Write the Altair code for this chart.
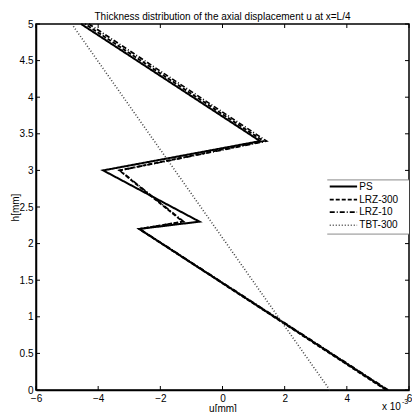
import altair as alt
import pandas as pd

FONT = "Liberation Sans"

title_text = "Thickness distribution of the axial displacement u at x=L/4"
series_names = ["PS", "LRZ-300", "LRZ-10", "TBT-300"]

ps_u = [5.30, -2.68, -0.74, -3.84, 1.21, -4.55]
ps_h = [0.0, 2.2, 2.3, 3.0, 3.4, 5.0]

lrz300_u = [5.26, -2.68, -1.28, -3.32, 1.32, -4.42]
lrz300_h = [0.0, 2.2, 2.3, 3.0, 3.4, 5.0]

lrz10_u = [5.33, -2.66, -1.25, -3.30, 1.42, -4.30]
lrz10_h = [0.0, 2.2, 2.3, 3.0, 3.4, 5.0]

tbt_u = [3.45, -4.85]
tbt_h = [0.0, 5.0]

x_ticks = [-6, -4, -2, 0, 2, 4, 6]
y_ticks = [0, 0.5, 1, 1.5, 2, 2.5, 3, 3.5, 4, 4.5, 5]

rows = []
for name, us, hs in [("PS", ps_u, ps_h), ("LRZ-300", lrz300_u, lrz300_h),
                     ("LRZ-10", lrz10_u, lrz10_h), ("TBT-300", tbt_u, tbt_h)]:
    for i, (u, h) in enumerate(zip(us, hs)):
        rows.append({"series": name, "u": u, "h": h, "i": i})
df = pd.DataFrame(rows)

W, H = 373, 366
TL = 4

xscale = alt.Scale(domain=[-6, 6], nice=False, zero=False)
yscale = alt.Scale(domain=[0, 5], nice=False, zero=False)
x_axis = alt.Axis(values=x_ticks, title="u[mm]")
y_axis = alt.Axis(values=y_ticks, title="h[mm]", titleX=-21, titleBaseline="middle")

color_scale = alt.Scale(domain=series_names, range=["black", "black", "black", "#444444"])
dash_scale = alt.Scale(domain=series_names, range=[[1, 0], [4, 2], [5, 2, 1, 2], [1, 2]])
width_scale = alt.Scale(domain=series_names, range=[2, 1.6, 1.6, 1])

style_enc = dict(
    color=alt.Color("series:N", scale=color_scale, legend=None),
    strokeDash=alt.StrokeDash("series:N", scale=dash_scale, legend=None),
    strokeWidth=alt.StrokeWidth("series:N", scale=width_scale, legend=None),
)


def xr(field="u"):
    return alt.X(f"{field}:Q", scale=xscale, axis=x_axis, title="u[mm]")


def yr(field="h"):
    return alt.Y(f"{field}:Q", scale=yscale, axis=y_axis, title="h[mm]")


lines = alt.Chart(df).mark_line().encode(
    x=xr(), y=yr(), detail="series:N", order="i:Q", **style_enc)

xt = pd.DataFrame({"u": x_ticks})
yt = pd.DataFrame({"h": y_ticks})

bottom_ticks = alt.Chart(xt).mark_rule(color="black", strokeWidth=1).encode(
    x=xr(), y=alt.value(H), y2=alt.value(H - TL))
top_ticks = alt.Chart(xt).mark_rule(color="black", strokeWidth=1).encode(
    x=xr(), y=alt.value(0), y2=alt.value(TL))
left_ticks = alt.Chart(yt).mark_rule(color="black", strokeWidth=1).encode(
    y=yr(), x=alt.value(0), x2=alt.value(TL))
right_ticks = alt.Chart(yt).mark_rule(color="black", strokeWidth=1).encode(
    y=yr(), x=alt.value(W), x2=alt.value(W - TL))

# legend drawn inside the plot, as in the original figure
leg_top, leg_bot, leg_left, leg_right = 2.87, 2.13, 3.37, 6.0
row_h = [2.78, 2.60, 2.43, 2.25]
leg = pd.DataFrame({"series": series_names, "h": row_h,
                    "u": [3.45] * 4, "u2": [4.33] * 4, "ut": [4.40] * 4})
frame = pd.DataFrame({"u": [leg_left], "u2": [leg_right], "h": [leg_bot], "h2": [leg_top]})
frame_lines = pd.DataFrame({"u": [leg_left, leg_left], "u2": [leg_right, leg_right],
                            "h": [leg_top, leg_bot]})

leg_bg = alt.Chart(frame).mark_rect(fill="white").encode(
    x=xr(), x2="u2:Q", y=yr(), y2="h2:Q")
leg_border = alt.Chart(frame_lines).mark_rule(color="#8a8a8a", strokeWidth=1).encode(
    x=xr(), x2="u2:Q", y=yr())
leg_lines = alt.Chart(leg).mark_rule().encode(
    x=xr(), x2="u2:Q", y=yr(), **style_enc)
leg_text = alt.Chart(leg).mark_text(font=FONT, fontSize=10, align="left",
                                    baseline="middle", color="black").encode(
    x=xr("ut"), y=yr(), text="series:N")

one = pd.DataFrame({"k": [0]})
title_mark = alt.Chart(one).mark_text(font=FONT, fontSize=10, align="center",
                                      baseline="bottom", color="black").encode(
    x=alt.value(W / 2), y=alt.value(-2), text=alt.value(title_text))
exp_base = alt.Chart(one).mark_text(font=FONT, fontSize=10, align="left",
                                    baseline="alphabetic", color="black").encode(
    x=alt.value(346), y=alt.value(H + 20), text=alt.value("x 10"))
exp_sup = alt.Chart(one).mark_text(font=FONT, fontSize=7, align="left",
                                   baseline="alphabetic", color="black").encode(
    x=alt.value(366), y=alt.value(H + 14), text=alt.value("-3"))

chart = alt.layer(lines, bottom_ticks, top_ticks, left_ticks, right_ticks,
                  leg_bg, leg_border, leg_lines, leg_text,
                  title_mark, exp_base, exp_sup).properties(
    width=W, height=H,
    padding={"left": 28, "top": 16, "right": 3, "bottom": 22},
    autosize=alt.AutoSizeParams(type="none"),
).configure_view(
    stroke="black", strokeWidth=1.5
).configure_axis(
    grid=False, ticks=False, tickSize=0, domainColor="black", domainWidth=1.5,
    labelFont=FONT, labelFontSize=10, labelColor="black", labelFlush=False,
    labelOverlap=False, titleFont=FONT, titleFontSize=10, titleFontWeight="normal",
    titleColor="black", format="~g",
).configure_axisX(
    labelPadding=3, titlePadding=0
).configure_axisY(
    labelPadding=3
)

chart.save("out.html", embed_options={"renderer": "svg", "actions": False})
